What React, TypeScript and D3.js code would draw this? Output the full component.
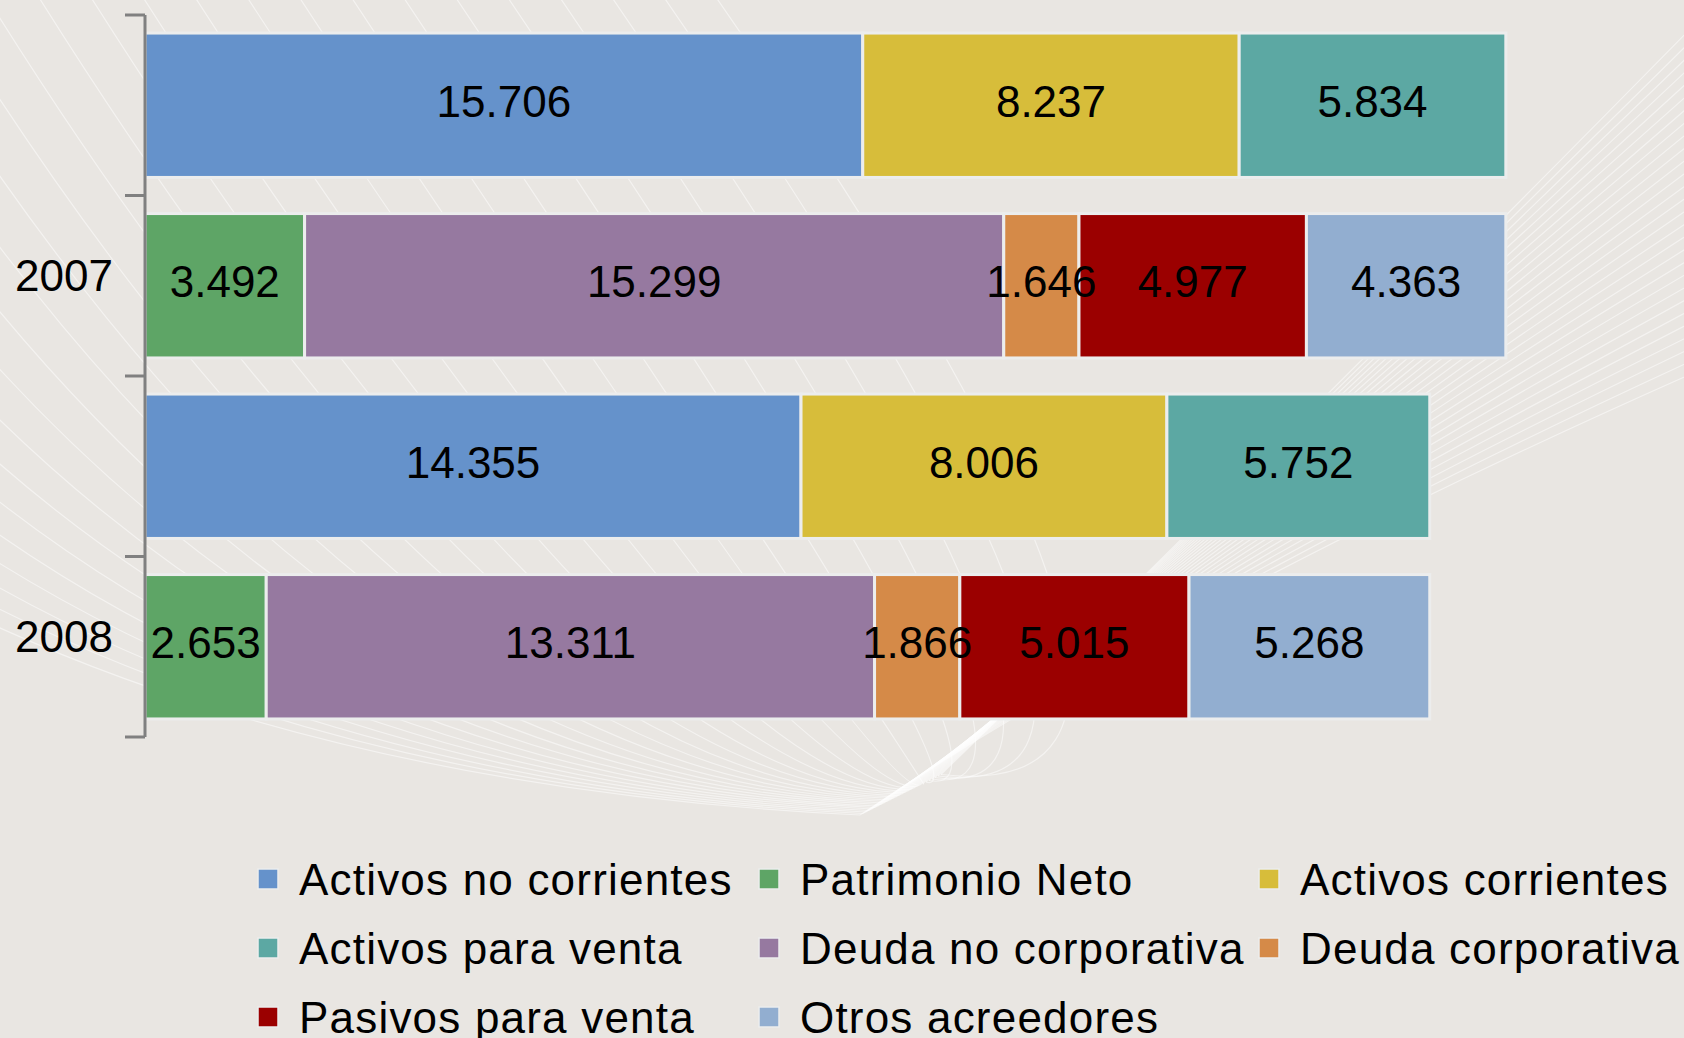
import React from 'react';
import * as d3 from 'd3';

// rows: each year has an asset bar and a liability bar
const rowKeys = ['2007 activo', '2007 pasivo', '2008 activo', '2008 pasivo'];
const rowLabels = ['', '2007', '', '2008'];

// series values (millones), per row
const activosNoCorrientes = [15706, 0, 14355, 0];
const activosCorrientes = [8237, 0, 8006, 0];
const activosParaVenta = [5834, 0, 5752, 0];
const patrimonioNeto = [0, 3492, 0, 2653];
const deudaNoCorporativa = [0, 15299, 0, 13311];
const deudaCorporativa = [0, 1646, 0, 1866];
const pasivosParaVenta = [0, 4977, 0, 5015];
const otrosAcreedores = [0, 4363, 0, 5268];

const seriesNames = [
  'Activos no corrientes',
  'Activos corrientes',
  'Activos para venta',
  'Patrimonio Neto',
  'Deuda no corporativa',
  'Deuda corporativa',
  'Pasivos para venta',
  'Otros acreedores',
];
const seriesValues = [
  activosNoCorrientes,
  activosCorrientes,
  activosParaVenta,
  patrimonioNeto,
  deudaNoCorporativa,
  deudaCorporativa,
  pasivosParaVenta,
  otrosAcreedores,
];
const seriesColors = ['#6592cb', '#d7bd3a', '#5ca8a3', '#5ea566', '#9679a0', '#d58a48', '#9b0000', '#92aed0'];

// legend reads row by row, three columns
const legendOrder = [
  'Activos no corrientes', 'Patrimonio Neto', 'Activos corrientes',
  'Activos para venta', 'Deuda no corporativa', 'Deuda corporativa',
  'Pasivos para venta', 'Otros acreedores',
];

const FONT = '"Liberation Sans", Arial, sans-serif';
const W = 1684;
const H = 1038;

const esLocale = d3.formatLocale({ decimal: ',', thousands: '.', grouping: [3], currency: ['', '€'] });
const fmt = esLocale.format(',d');

const Background = () => {
  // decorative white swoosh lines of the slide theme
  const paths: string[] = [];
  for (let i = 0; i < 28; i++) {
    const sx = -700 + i * 52;
    const cx = sx + 420 + i * 6;
    const ex = 860 + i * 3;
    const ey = 815 - i * 1.5;
    paths.push(`M${sx},-20 Q${cx},${760 + i * 2} ${ex},${ey}`);
    paths.push(`M${ex},${ey} Q${1180 + i * 4},${600 - i * 6} ${1700},${370 - i * 13}`);
  }
  return (
    <g>
      <rect x={0} y={0} width={W} height={H} fill="#e9e6e2" />
      {paths.map((d, i) => (
        <path key={i} d={d} fill="none" stroke="#ffffff" strokeOpacity={0.5} strokeWidth={1.2} />
      ))}
    </g>
  );
};

const App = () => {
  const table = rowKeys.map((k, r) => {
    const o: Record<string, any> = { row: k };
    seriesNames.forEach((s, j) => (o[s] = seriesValues[j][r]));
    return o;
  });
  const stacked = d3.stack().keys(seriesNames)(table as any);

  const x = d3.scaleLinear().domain([0, 30000]).range([145, 1516]);
  const y = d3.scaleBand().domain(rowKeys).range([15, 737]).paddingInner(0.2).paddingOuter(0.1);
  const color = d3.scaleOrdinal<string, string>().domain(seriesNames).range(seriesColors);

  const step = y.step();
  const bounds = rowKeys.map((k) => (y(k) as number) - (step * 0.2) / 2);
  bounds.push(bounds[bounds.length - 1] + step);

  const segments = stacked.flatMap((layer) =>
    layer
      .map((d, i) => ({ key: layer.key, row: rowKeys[i], x0: d[0], x1: d[1], v: d[1] - d[0] }))
      .filter((s) => s.v > 0)
  );

  return (
    <svg width={W} height={H} style={{ position: 'absolute', left: 0, top: 0 }} fontFamily={FONT}>
      <Background />

      <g>
        {segments.map((s) => (
          <rect
            key={s.key + s.row}
            x={x(s.x0)}
            y={y(s.row)}
            width={x(s.x1) - x(s.x0)}
            height={y.bandwidth()}
            fill={color(s.key)}
            stroke="#eceded"
            strokeWidth={3}
          />
        ))}
      </g>
      <g>
        {segments.map((s) => (
          <text
            key={s.key + s.row}
            x={(x(s.x0) + x(s.x1)) / 2}
            y={(y(s.row) as number) + y.bandwidth() / 2 - 4}
            textAnchor="middle"
            dominantBaseline="central"
            fontSize={44}
            fill="#000"
          >
            {fmt(s.v)}
          </text>
        ))}
      </g>

      {/* category axis */}
      <g stroke="#808080" strokeWidth={3}>
        <line x1={145} x2={145} y1={bounds[0]} y2={bounds[bounds.length - 1]} />
        {bounds.map((b, i) => (
          <line key={i} x1={125} x2={145} y1={b} y2={b} />
        ))}
      </g>
      {rowKeys.map((k, i) => (
        <text
          key={k}
          x={113}
          y={(y(k) as number) + y.bandwidth() / 2 - 10}
          textAnchor="end"
          dominantBaseline="central"
          fontSize={44}
          fill="#000"
        >
          {rowLabels[i]}
        </text>
      ))}

      {/* legend */}
      {legendOrder.map((name, i) => {
        const col = i % 3;
        const row = Math.floor(i / 3);
        const sx = [258, 759, 1259][col];
        const base = 895 + row * 69;
        return (
          <g key={name}>
            <rect x={sx} y={base - 26} width={20} height={20} fill={color(name)} stroke="#eceded" strokeWidth={1.5} />
            <text x={sx + 41} y={base} fontSize={44} letterSpacing={1.2} fill="#000">
              {name}
            </text>
          </g>
        );
      })}
    </svg>
  );
};

export default App;
